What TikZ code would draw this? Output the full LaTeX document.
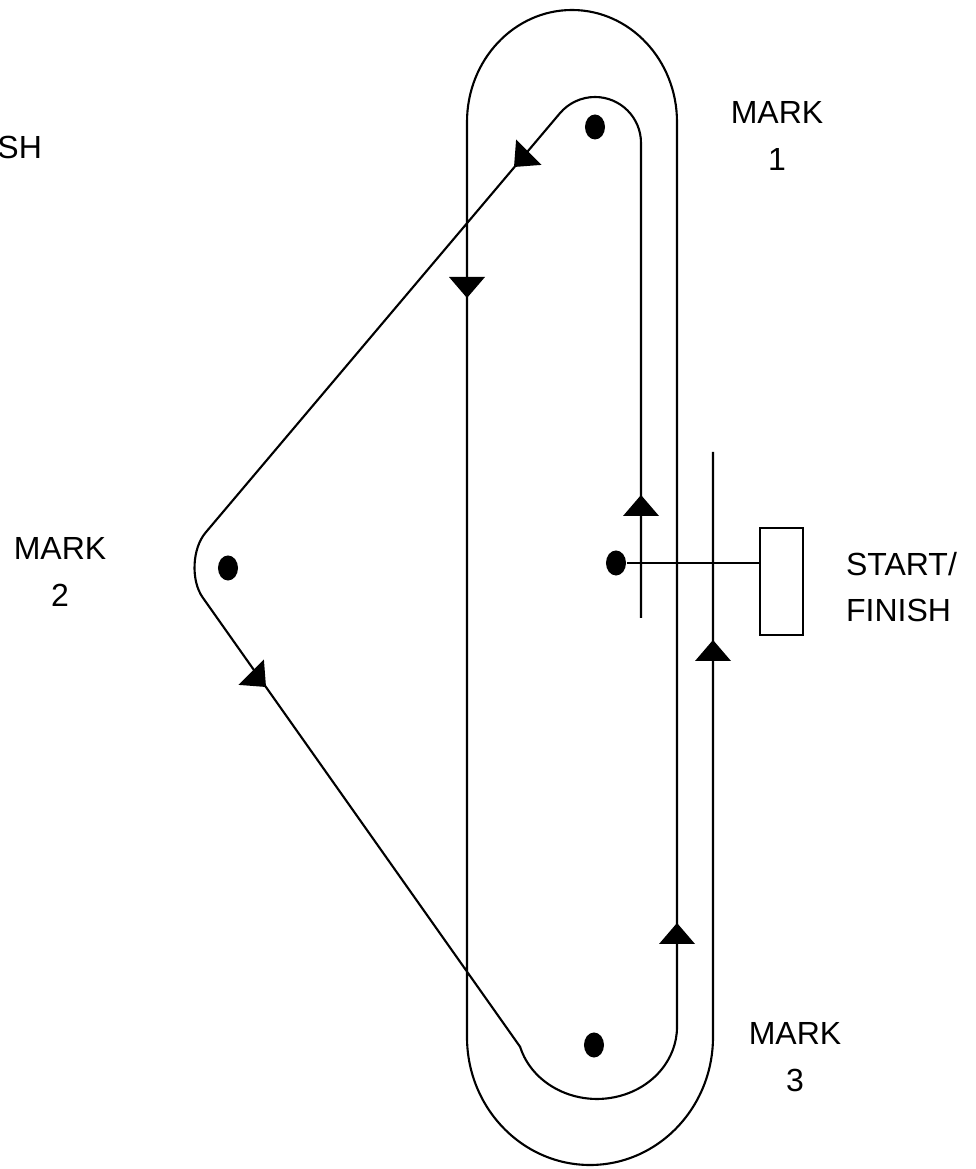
\documentclass[tikz,border=0pt]{standalone}
\usepackage{fontspec}
\setmainfont{Liberation Sans}
\usetikzlibrary{shapes.geometric}
\begin{document}
\begin{tikzpicture}[x=0.01cm, y=0.01cm, line width=0.6pt,
  buoy/.style={ellipse, fill, inner sep=0pt, minimum width=2mm, minimum height=2.5mm},
  marktext/.style={align=center, inner sep=0pt, font=\fontsize{9.1}{13.3}\selectfont},
  tri/.pic={\fill (0,0) -- (-18,-21) -- (18,-21) -- cycle;}]
\useasboundingbox (0,0) rectangle (975,1169);
\node[buoy] (m1) at (595,1042) {};
\node[buoy] (m2) at (228,601) {};
\node[buoy] (m3) at (594,124) {};
\node[buoy] (pin) at (616,606) {};
\node[draw, minimum width=4.3mm, minimum height=10.7mm, inner sep=0pt] (boat) at (781.5,587.5) {};
\draw (pin) -- (pin -| boat.west);
\draw (641,551) -- (641,1026) arc[start angle=0, end angle=140, radius=46]
  -- (205.5,636.3) .. controls (192.1,620.4) and (190.7,588.5) .. (202.7,571.5)
  -- (520.1,122.2) arc[start angle=196, end angle=360, x radius=80, y radius=72]
  -- (677,1047) arc[start angle=0, end angle=180, x radius=105, y radius=112]
  -- (467,132) arc[start angle=180, end angle=360, x radius=123, y radius=128]
  -- (713,717);
\foreach \x/\y/\a in {641/674/0, 713/529/0, 677/246/0, 467/871/180, 514/1002/135, 266/482/-135}
  \pic[rotate=\a] at (\x,\y) {tri};
\node[marktext] (t1) at (777,1033) {MARK\\1};
\node[marktext] (t2) at (60,597) {MARK\\2};
\node[marktext] (t3) at (795,112) {MARK\\3};
\node[marktext, align=left, anchor=west] (t4) at (845,582) {START/\\FINISH};
\node[marktext, anchor=east] (t5) at (43,1021.5) {SH};
\end{tikzpicture}
\end{document}
